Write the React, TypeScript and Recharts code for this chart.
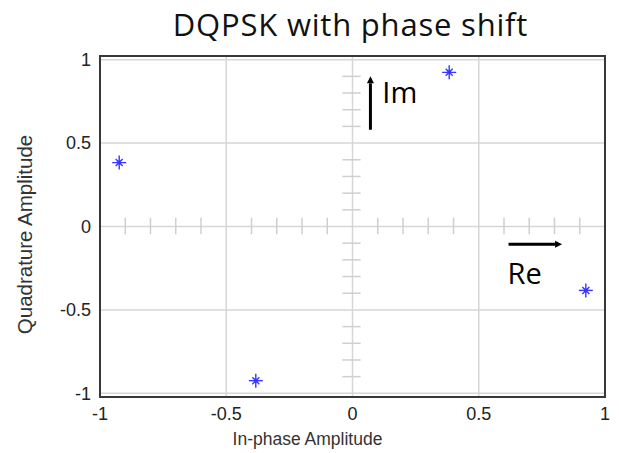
import React from 'react';
import {
  ScatterChart,
  Scatter,
  XAxis,
  YAxis,
  CartesianGrid,
  ReferenceLine,
  ReferenceArea,
  ReferenceDot,
} from 'recharts';

// constellation points (DQPSK rotated by pi/8)
const inPhase = [0.383, -0.924, -0.383, 0.924];
const quadrature = [0.924, 0.383, -0.924, -0.383];

const majorTicks = [-1, -0.5, 0, 0.5, 1];
const minorTicks = [-0.9, -0.8, -0.7, -0.6, -0.4, -0.3, -0.2, -0.1, 0.1, 0.2, 0.3, 0.4, 0.6, 0.7, 0.8, 0.9];

const points = inPhase.map((x, i) => ({ x, y: quadrature[i] }));

const Y_DOMAIN: [number, number] = [-1.022, 1.022];
const ARIAL = "'Liberation Sans', Arial, sans-serif";

const Asterisk = (props: any) => {
  const { cx, cy } = props;
  const c = '#3535ff';
  return (
    <g stroke={c} strokeWidth={1.4}>
      <line x1={cx - 7} y1={cy} x2={cx + 7} y2={cy} />
      <line x1={cx} y1={cy - 7} x2={cx} y2={cy + 7} />
      <line x1={cx - 3.5} y1={cy - 3.5} x2={cx + 3.5} y2={cy + 3.5} />
      <line x1={cx - 3.5} y1={cy + 3.5} x2={cx + 3.5} y2={cy - 3.5} />
      <circle cx={cx} cy={cy} r={2} fill={c} stroke="none" />
    </g>
  );
};

const Arrow = (props: any) => {
  const { x1, y1, x2, y2 } = props;
  const ang = Math.atan2(y2 - y1, x2 - x1);
  const len = 7;
  const w = 3.5;
  const bx = x2 - len * Math.cos(ang);
  const by = y2 - len * Math.sin(ang);
  const px = -Math.sin(ang) * w;
  const py = Math.cos(ang) * w;
  return (
    <g>
      <line x1={x1} y1={y1} x2={bx} y2={by} stroke="#000" strokeWidth={3} />
      <polygon points={`${x2},${y2} ${bx + px},${by + py} ${bx - px},${by - py}`} fill="#000" />
    </g>
  );
};

const labelShape = (text: string) => (props: any) => (
  <text
    x={props.cx}
    y={props.cy}
    fontFamily="'Open Sans', sans-serif"
    fontSize={29}
    fill="#000"
    dominantBaseline="central"
  >
    {text}
  </text>
);

const XLabel = (props: any) => {
  const vb = props.viewBox;
  return (
    <text x={vb.x + vb.width / 2 - 45} y={445} textAnchor="middle" fill="#333" fontSize={17.5} fontFamily={ARIAL}>
      In-phase Amplitude
    </text>
  );
};

const YLabel = (props: any) => {
  const vb = props.viewBox;
  const cy = vb.y + vb.height / 2 + 8;
  return (
    <text
      x={24}
      y={cy}
      transform={`rotate(-90, 24, ${cy})`}
      textAnchor="middle"
      dominantBaseline="central"
      fill="#333"
      fontSize={20.5}
      fontFamily={ARIAL}
    >
      Quadrature Amplitude
    </text>
  );
};

export default function App() {
  return (
    <div style={{ position: 'absolute', left: 0, top: 0, width: 619, height: 453, background: '#fff' }}>
      <div
        style={{
          position: 'absolute',
          top: 2,
          left: 98,
          width: 505,
          textAlign: 'center',
          fontFamily: "'Open Sans', sans-serif",
          fontSize: 31,
          letterSpacing: 0.8,
          color: '#111',
          lineHeight: '44px',
          whiteSpace: 'nowrap',
        }}
      >
        DQPSK with phase shift
      </div>
      <ScatterChart width={619} height={453} margin={{ top: 56, right: 14, bottom: 0, left: 0 }}>
        <CartesianGrid stroke="#d6d6d6" strokeWidth={1.5} horizontalValues={majorTicks} verticalValues={majorTicks} />
        <XAxis
          type="number"
          dataKey="x"
          domain={[-1, 1]}
          ticks={majorTicks}
          height={56}
          axisLine={false}
          tickLine={false}
          tickSize={0}
          tickMargin={10}
          tick={{ fill: '#222', fontSize: 18, fontFamily: ARIAL }}
          label={<XLabel />}
        />
        <YAxis
          type="number"
          dataKey="y"
          domain={Y_DOMAIN}
          allowDataOverflow
          ticks={majorTicks}
          width={100}
          axisLine={false}
          tickLine={false}
          tickSize={0}
          tickMargin={9}
          tick={{ fill: '#222', fontSize: 18, fontFamily: ARIAL }}
          label={<YLabel />}
        />
        {minorTicks.map((v) => (
          <ReferenceLine
            key={'mx' + v}
            segment={[{ x: v, y: -0.046 }, { x: v, y: 0.052 }]}
            stroke="#cfcfcf"
            strokeWidth={1.5}
          />
        ))}
        {minorTicks.map((v) => (
          <ReferenceLine
            key={'my' + v}
            segment={[{ x: -0.04, y: v }, { x: 0.032, y: v }]}
            stroke="#cfcfcf"
            strokeWidth={1.5}
          />
        ))}
        <ReferenceArea
          x1={-1}
          x2={1}
          y1={Y_DOMAIN[0]}
          y2={Y_DOMAIN[1]}
          fill="none"
          stroke="#383838"
          strokeWidth={2}
          ifOverflow="visible"
        />
        <ReferenceLine segment={[{ x: 0.071, y: 0.58 }, { x: 0.071, y: 0.9 }]} shape={Arrow} />
        <ReferenceLine segment={[{ x: 0.618, y: -0.106 }, { x: 0.83, y: -0.106 }]} shape={Arrow} />
        <ReferenceDot x={0.118} y={0.81} r={0} shape={labelShape('Im')} />
        <ReferenceDot x={0.614} y={-0.275} r={0} shape={labelShape('Re')} />
        <Scatter data={points} shape={Asterisk} isAnimationActive={false} />
      </ScatterChart>
    </div>
  );
}
